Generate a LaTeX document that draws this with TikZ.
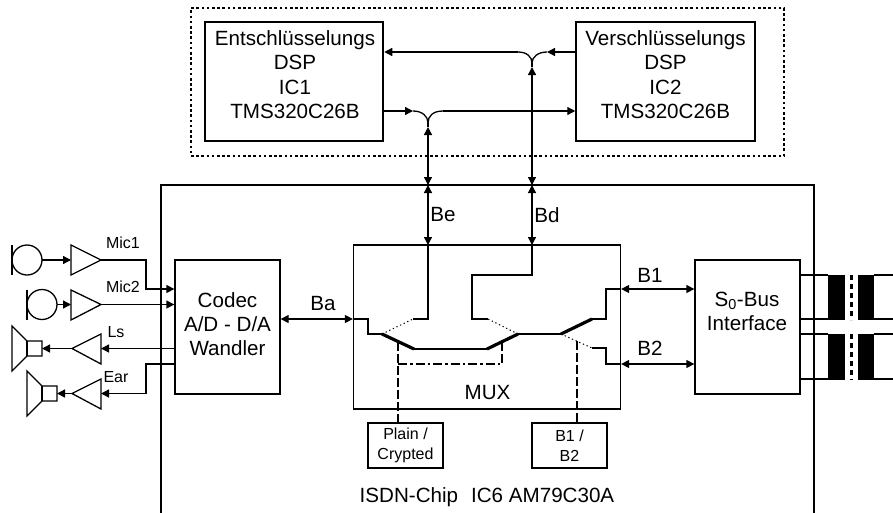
\documentclass[tikz,border=0pt]{standalone}
\usepackage{fontspec}
\setmainfont{Liberation Sans}
\usetikzlibrary{arrows.meta}
\tikzset{
  x=1pt,y=-1pt,
  wire/.style={line width=1.3pt,line join=miter},
  tip/.style={wire,-{Triangle[length=8pt,width=8pt]}},
  tiptip/.style={wire,{Triangle[length=8pt,width=8pt]}-{Triangle[length=8pt,width=8pt]}},
  blade/.style={line width=3.2pt},
  open/.style={line width=1pt,dash pattern=on 1.3pt off 2.7pt},
  ctrl/.style={line width=1.5pt,dash pattern=on 9pt off 3pt},
  ctrldot/.style={line width=1.5pt,dash pattern=on 9pt off 3pt on 2.5pt off 3pt},
  boxn/.style={draw,line width=1.3pt,inner sep=0pt},
  txt/.style={inner sep=0pt,align=center,font=\fontsize{20.6}{24.3}\selectfont},
  dsp/.style={boxn,line width=2pt,minimum width=178.5pt,minimum height=119pt},
  sel/.style={boxn,align=center,minimum width=75pt,minimum height=45pt,font=\fontsize{16}{20}\selectfont},
  small/.style={inner sep=0pt,font=\fontsize{16}{20}\selectfont},
  amp/.style={line width=1.3pt,line join=miter},
  core/.style={fill=black,draw=none},
}
\begin{document}
\begin{tikzpicture}
\useasboundingbox (0,0) rectangle (893,512);
% frames
\node[draw,line width=2pt,dash pattern=on 2.6pt off 2.6pt,minimum width=593pt,minimum height=148pt,inner sep=0pt] (crypt) at (487.5,82) {};
\node[dsp] (ic1) at (294,81.5) {};
\node[txt] (ic1t) at (295,74.5) {Entschlüsselungs\\DSP\\IC1\\TMS320C26B};
\node[dsp] (ic2) at (665.5,81.5) {};
\node[txt] (ic2t) at (665.5,74.5) {Verschlüsselungs\\DSP\\IC2\\TMS320C26B};
\coordinate (chipbl) at (161,515);
\coordinate (chiptl) at (161,185);
\coordinate (chiptr) at (814,185);
\coordinate (chipbr) at (814,515);
\draw[line width=2pt] (chipbl) -- (chiptl) -- (chiptr) -- (chipbr);
\node[boxn,minimum width=267pt,minimum height=164pt] (mux) at (487,327) {};
\node[txt] (muxl) at (487.5,393) {MUX};
\node[boxn,minimum width=105pt,minimum height=134pt] (codec) at (227.5,327) {};
\node[txt] (codect) at (227.5,324) {Codec\\A/D - D/A\\Wandler};
\node[boxn,minimum width=105pt,minimum height=134pt] (s0) at (747.5,327) {};
\node[txt] (s0t) at (747,311.5) {S\textsubscript{0}-Bus\\Interface};
\node[sel] (plain) at (405.5,445.5) {Plain /\\Crypted};
\node[sel] (bsel) at (569.5,445.5) {B1 /\\B2};
% labels
\node[txt] (lba) at (323,304) {Ba};
\node[txt] (lbe) at (443,215) {Be};
\node[txt] (lbd) at (547,215) {Bd};
\node[txt] (lb1) at (650,275) {B1};
\node[txt] (lb2) at (650,348.5) {B2};
\node[txt] (lchip) at (487,497.5) {ISDN-Chip\hspace{13pt}IC6 AM79C30A};
\node[small] (lm1) at (123,243) {Mic1};
\node[small] (lm2) at (123,287) {Mic2};
\node[small] (lls) at (116,332) {Ls};
\node[small] (lear) at (116,377) {Ear};
% DSP bus
\coordinate (jd) at (532,63);
\coordinate (je) at (428,123);
\coordinate (tipd) at (532,67);
\coordinate (tipe) at (428,127);
\coordinate (cd) at (532,185);
\coordinate (ce) at (428,185);
\coordinate (md) at (532,245);
\coordinate (me) at (428,245);
\coordinate (up1) at (518,52);
\coordinate (up2) at (547,52);
\coordinate (lo1) at (413,111);
\coordinate (lo2) at (443,111);
\draw[tip] (ic2.west |- up2) -- (up2);
\draw[tip] (up1) -- (ic1.east |- up1);
\draw[wire] (up1) .. controls (527,52) and (532,57) .. (jd);
\draw[wire] (up2) .. controls (538,52) and (532,57) .. (jd);
\draw[tip] (ic1.east |- lo1) -- (lo1);
\draw[tip] (lo2) -- (ic2.west |- lo2);
\draw[wire] (lo1) .. controls (422,111) and (428,116) .. (je);
\draw[wire] (lo2) .. controls (433,111) and (428,116) .. (je);
\draw[wire] (jd) -- (tipd);
\draw[wire] (je) -- (tipe);
\draw[tiptip] (tipd) -- (cd);
\draw[tiptip] (tipe) -- (ce);
\draw[tiptip] (cd) -- (md);
\draw[tiptip] (ce) -- (me);
% switches
\coordinate (a1) at (382,334);
\coordinate (a2) at (414,349);
\coordinate (a3) at (487,349);
\coordinate (a4) at (518,334);
\coordinate (a5) at (561,334);
\coordinate (a6) at (592,319);
\coordinate (a7) at (592,348);
\coordinate (e1) at (413,319);
\coordinate (d1) at (488,319);
\draw[tiptip] (codec.east |- 0,319) -- (mux.west |- 0,319);
\draw[wire] (mux.west |- 0,319) -- (368,319) -- (368,334) -- (a1);
\draw[wire] (me) -- (428,319) -- (e1);
\draw[wire] (md) -- (532,275) -- (472,275) -- (472,319) -- (d1);
\draw[wire] (a2) -- (a3);
\draw[wire] (a4) -- (a5);
\draw[wire] (a6) -- (606,319) -- (606,289) -- (mux.east |- 0,289);
\draw[wire] (a7) -- (606,348) -- (606,364) -- (mux.east |- 0,364);
\draw[tiptip] (mux.east |- 0,289) -- (s0.west |- 0,289);
\draw[tiptip] (mux.east |- 0,364) -- (s0.west |- 0,364);
\draw[open] (a1) -- (e1);
\draw[open] (a4) -- (d1);
\draw[open] (a5) -- (a7);
\draw[blade] (a1) -- (a2);
\draw[blade] (a3) -- (a4);
\draw[blade] (a5) -- (a6);
% control lines
\draw[ctrl] (398,342) -- (plain.north -| 398,0);
\draw[ctrldot] (398,364) -- (502,364);
\draw[ctrl] (502,342) -- (502,364);
\draw[ctrl] (577,341) -- (bsel.north -| 577,0);
% audio left
\coordinate (m1) at (27,260);
\coordinate (m2) at (42,304.5);
\draw[amp] (m1) circle[radius=15pt];
\draw[amp] (12,245) -- (12,275);
\draw[amp] (m2) circle[radius=15pt];
\draw[amp] (27,289.5) -- (27,319.5);
\draw[amp] (71,245) -- (101,260) -- (71,275) -- cycle;
\draw[amp] (71,290) -- (101,304.5) -- (71,320) -- cycle;
\draw[amp] (101,334) -- (72,348.5) -- (101,364) -- cycle;
\draw[amp] (101,379) -- (72,393.5) -- (101,409) -- cycle;
\draw[amp] (12,326) -- (27,341) -- (42,341) -- (42,356) -- (27,356) -- (12,371) -- cycle;
\draw[amp] (27,341) -- (27,356);
\draw[amp] (27,371) -- (42,386) -- (57,386) -- (57,401) -- (42,401) -- (27,416) -- cycle;
\draw[amp] (42,386) -- (42,401);
\draw[tip] (42,260) -- (71,260);
\draw[tip] (57,304.5) -- (71,304.5);
\draw[tip] (72,348.5) -- (42,348.5);
\draw[tip] (72,393.5) -- (57,393.5);
\draw[tip] (101,260) -- (146,260) -- (146,289) -- (codec.west |- 0,289);
\draw[tip] (101,304.5) -- (codec.west |- 0,304.5);
\draw[tip] (codec.west |- 0,348.5) -- (101,348.5);
\draw[tip] (codec.west |- 0,364) -- (146,364) -- (146,393.5) -- (101,393.5);
% transformers
\foreach \yy in {275,319,334,379} {
  \draw[wire] (s0.east |- 0,\yy) -- (828,\yy);
  \draw[wire] (874,\yy) -- (893,\yy);
}
\fill[core] (828,275) rectangle (845,320);
\fill[core] (858,275) rectangle (874,320);
\fill[core] (828,334) rectangle (845,380);
\fill[core] (858,334) rectangle (874,380);
\draw[line width=3pt,dash pattern=on 5pt off 4pt] (851.5,275) -- (851.5,320);
\draw[line width=3pt,dash pattern=on 5pt off 4pt] (851.5,334) -- (851.5,380);
\end{tikzpicture}
\end{document}
